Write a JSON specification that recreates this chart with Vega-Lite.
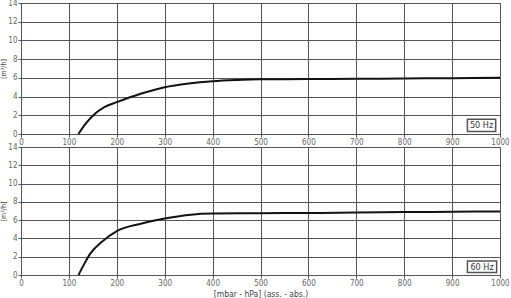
{
  "$schema": "https://vega.github.io/schema/vega-lite/v6.json",
  "padding": {"left": -1, "top": -2, "right": 0, "bottom": 0},
  "background": "white",
  "spacing": -8,
  "config": {
    "font": "DejaVu Sans Condensed",
    "view": {"stroke": "#555", "strokeWidth": 1},
    "axis": {
      "gridColor": "#555",
      "gridOpacity": 1,
      "gridWidth": 1,
      "domainColor": "#555",
      "tickColor": "#555",
      "tickSize": 3,
      "labelFontSize": 8,
      "labelColor": "#666",
      "titleFontWeight": "normal",
      "titleColor": "#444",
      "labelPadding": 1,
      "labelOverlap": false,
      "labelFlush": false,
      "format": "d"
    },
    "axisX": {"titleFontSize": 8.5, "titlePadding": 2},
    "axisY": {"titleFontSize": 7, "titlePadding": 1}
  },
  "datasets": {
    "hz50": [
      {"p": 120, "q": 0},
      {"p": 135, "q": 1.1},
      {"p": 155, "q": 2.2},
      {"p": 175, "q": 2.9},
      {"p": 200, "q": 3.4},
      {"p": 250, "q": 4.3},
      {"p": 300, "q": 5.0},
      {"p": 350, "q": 5.4},
      {"p": 400, "q": 5.65},
      {"p": 450, "q": 5.78},
      {"p": 500, "q": 5.85},
      {"p": 600, "q": 5.87},
      {"p": 700, "q": 5.9},
      {"p": 800, "q": 5.93},
      {"p": 900, "q": 5.97},
      {"p": 1000, "q": 6.02}
    ],
    "hz60": [
      {"p": 120, "q": 0},
      {"p": 133, "q": 1.3},
      {"p": 145, "q": 2.36},
      {"p": 169, "q": 3.63},
      {"p": 200, "q": 4.8},
      {"p": 252, "q": 5.63},
      {"p": 300, "q": 6.17},
      {"p": 355, "q": 6.6},
      {"p": 400, "q": 6.72},
      {"p": 500, "q": 6.76},
      {"p": 600, "q": 6.78},
      {"p": 700, "q": 6.83},
      {"p": 800, "q": 6.88},
      {"p": 900, "q": 6.92},
      {"p": 1000, "q": 6.95}
    ]
  },
  "vconcat": [
    {
      "width": 479,
      "height": 131,
      "encoding": {
        "x": {"type": "quantitative", "scale": {"domain": [0, 1000], "nice": false}, "axis": {"values": [0,100,200,300,400,500,600,700,800,900,1000], "title": null}},
        "y": {"type": "quantitative", "scale": {"domain": [0, 14], "nice": false}, "axis": {"values": [0,2,4,6,8,10,12,14], "title": "[m³/h]"}}
      },
      "layer": [
        {
          "data": {"name": "hz50"},
          "mark": {"type": "line", "color": "#111", "strokeWidth": 2, "interpolate": "monotone"},
          "encoding": {
            "x": {"field": "p", "type": "quantitative"},
            "y": {"field": "q", "type": "quantitative"}
          }
        },
        {
          "data": {"values": [{"label": "50 Hz"}]},
          "mark": {"type": "rect", "fill": "white", "stroke": "#555", "strokeWidth": 1.5},
          "encoding": {
            "x": {"datum": 932, "type": "quantitative"},
            "x2": {"datum": 991},
            "y": {"datum": 0.27, "type": "quantitative"},
            "y2": {"datum": 1.57}
          }
        },
        {
          "data": {"values": [{"label": "50 Hz"}]},
          "mark": {"type": "text", "fontSize": 9, "color": "#333", "align": "center", "baseline": "middle"},
          "encoding": {
            "x": {"datum": 961.5, "type": "quantitative"},
            "y": {"datum": 0.92, "type": "quantitative"},
            "text": {"field": "label"}
          }
        }
      ]
    },
    {
      "width": 479,
      "height": 128,
      "encoding": {
        "x": {"type": "quantitative", "scale": {"domain": [0, 1000], "nice": false}, "axis": {"values": [0,100,200,300,400,500,600,700,800,900,1000], "title": "[mbar - hPa] (ass. - abs.)"}},
        "y": {"type": "quantitative", "scale": {"domain": [0, 14], "nice": false}, "axis": {"values": [0,2,4,6,8,10,12,14], "title": "[m³/h]"}}
      },
      "layer": [
        {
          "data": {"name": "hz60"},
          "mark": {"type": "line", "color": "#111", "strokeWidth": 2, "interpolate": "monotone"},
          "encoding": {
            "x": {"field": "p", "type": "quantitative"},
            "y": {"field": "q", "type": "quantitative"}
          }
        },
        {
          "data": {"values": [{"label": "60 Hz"}]},
          "mark": {"type": "rect", "fill": "white", "stroke": "#555", "strokeWidth": 1.5},
          "encoding": {
            "x": {"datum": 932, "type": "quantitative"},
            "x2": {"datum": 993},
            "y": {"datum": 0.28, "type": "quantitative"},
            "y2": {"datum": 1.53}
          }
        },
        {
          "data": {"values": [{"label": "60 Hz"}]},
          "mark": {"type": "text", "fontSize": 9, "color": "#333", "align": "center", "baseline": "middle"},
          "encoding": {
            "x": {"datum": 962.5, "type": "quantitative"},
            "y": {"datum": 0.9, "type": "quantitative"},
            "text": {"field": "label"}
          }
        }
      ]
    }
  ]
}
